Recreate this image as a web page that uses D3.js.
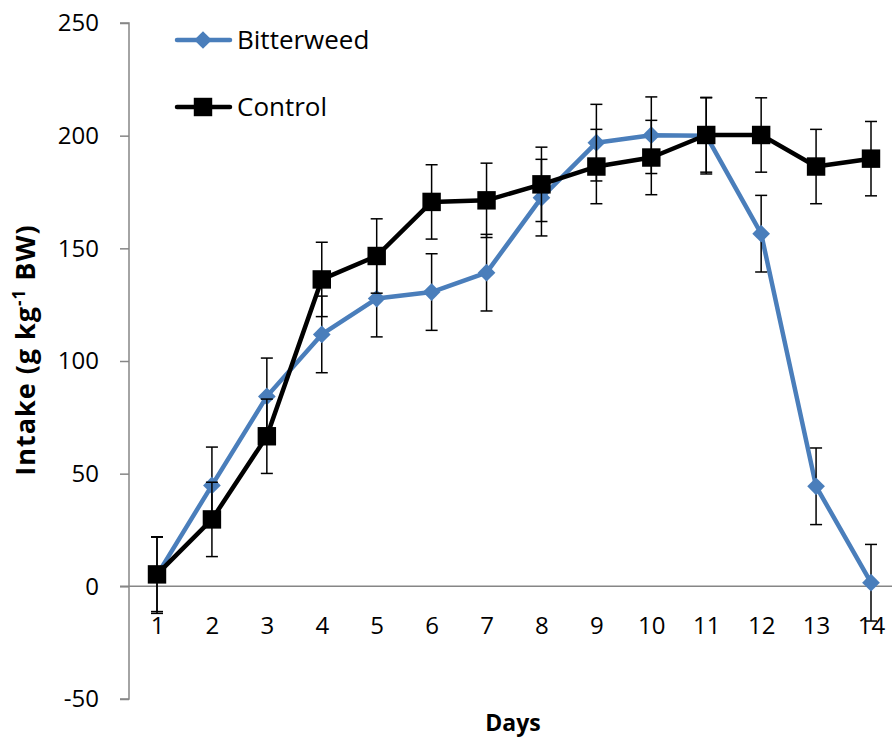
<!DOCTYPE html>
<html>
<head>
<meta charset="utf-8">
<script src="https://cdn.jsdelivr.net/npm/d3@7"></script>
<style>
  html, body { margin: 0; padding: 0; background: #fff; }
  svg { display: block; font-family: "Open Sans", "Noto Sans", sans-serif; }
</style>
</head>
<body>
<svg id="chart" width="892" height="740"></svg>
<script>
// Daily intake per treatment, with standard errors
const days = [1, 2, 3, 4, 5, 6, 7, 8, 9, 10, 11, 12, 13, 14];
const bitterweed = [5, 44.8, 84.3, 111.8, 127.7, 130.6, 139.2, 172.5, 196.9, 200.2, 200, 156.5, 44.4, 1.6];
const bitterweedSE = [17, 17, 17, 17, 17, 17, 17, 17, 17, 17, 17, 17, 17, 17];
const control = [5.3, 29.7, 66.6, 136.2, 146.6, 170.6, 171.3, 178.4, 186.3, 190.3, 200.3, 200.3, 186.3, 189.8];
const controlSE = [16.5, 16.5, 16.5, 16.5, 16.5, 16.5, 16.5, 16.5, 16.5, 16.5, 16.5, 16.5, 16.5, 16.5];
const yTicks = [-50, 0, 50, 100, 150, 200, 250];
const seriesNames = ["Bitterweed", "Control"];

const svg = d3.select("#chart");
const blue = "#4A7EBB";
const axisGray = "#868686";

const x = d3.scalePoint().domain(days).range([157, 871]);
const y = d3.scaleLinear().domain([-50, 250]).range([699, 23]);

// Vertical value axis with outside ticks
const yAxisX = 129;
const yAxis = svg.append("g").attr("transform", `translate(${yAxisX},0)`)
  .call(d3.axisLeft(y).tickValues(yTicks).tickSize(9).tickPadding(21).tickFormat(d => String(d)));
yAxis.select(".domain").attr("stroke", axisGray).attr("stroke-width", 1.5)
  .attr("d", `M-9,${y(250)}H0V${y(-50)}H-9`);
yAxis.selectAll(".tick line").attr("stroke", axisGray).attr("stroke-width", 1.5);
yAxis.selectAll(".tick text").attr("font-size", 24).attr("fill", "#000")
  .attr("font-family", "'Open Sans', sans-serif");

// Horizontal category axis crossing at zero
const xAxis = svg.append("g").attr("transform", `translate(0,${y(0)})`)
  .call(d3.axisBottom(x).tickSize(0).tickPadding(31));
xAxis.select(".domain").attr("stroke", axisGray).attr("stroke-width", 1.5)
  .attr("d", `M120,0H892`);
xAxis.selectAll(".tick text").attr("font-size", 24).attr("fill", "#000")
  .attr("font-family", "'Open Sans', sans-serif");

// Axis titles
svg.append("text")
  .attr("x", 513).attr("y", 731)
  .attr("text-anchor", "middle")
  .attr("font-size", 23).attr("font-weight", "bold")
  .text("Days");

const yTitle = svg.append("text")
  .attr("transform", "translate(35,350) rotate(-90)")
  .attr("text-anchor", "middle")
  .attr("font-size", 27).attr("font-weight", "bold")
  .attr("letter-spacing", 1);
yTitle.append("tspan").text("Intake (g kg");
yTitle.append("tspan").attr("font-size", 17).attr("dy", -10).text("-1");
yTitle.append("tspan").attr("dy", 10).text(" BW)");

const line = d3.line().x((d, i) => x(days[i])).y(d => y(d));

function drawErrorBars(values, se) {
  const g = svg.append("g").attr("stroke", "#000").attr("stroke-width", 1.5);
  values.forEach((v, i) => {
    const cx = x(days[i]);
    g.append("line").attr("x1", cx).attr("x2", cx).attr("y1", y(v - se[i])).attr("y2", y(v + se[i]));
    g.append("line").attr("x1", cx - 6).attr("x2", cx + 6).attr("y1", y(v + se[i])).attr("y2", y(v + se[i]));
    g.append("line").attr("x1", cx - 6).attr("x2", cx + 6).attr("y1", y(v - se[i])).attr("y2", y(v - se[i]));
  });
}

const diamond = d3.symbol().type(d3.symbolDiamond2).size(200);
const square = d3.symbol().type(d3.symbolSquare).size(340);

// Bitterweed series
svg.append("path").datum(bitterweed)
  .attr("d", line).attr("fill", "none").attr("stroke", blue)
  .attr("stroke-width", 4.5).attr("stroke-linejoin", "round");
drawErrorBars(bitterweed, bitterweedSE);
svg.append("g").selectAll("path").data(bitterweed).join("path")
  .attr("transform", (d, i) => `translate(${x(days[i])},${y(d)})`)
  .attr("d", diamond).attr("fill", blue);

// Control series
svg.append("path").datum(control)
  .attr("d", line).attr("fill", "none").attr("stroke", "#000")
  .attr("stroke-width", 4.5).attr("stroke-linejoin", "round");
drawErrorBars(control, controlSE);
svg.append("g").selectAll("path").data(control).join("path")
  .attr("transform", (d, i) => `translate(${x(days[i])},${y(d)})`)
  .attr("d", square).attr("fill", "#000");

// Legend
const legendItems = [
  { name: seriesNames[0], color: blue, symbol: diamond, ly: 40 },
  { name: seriesNames[1], color: "#000", symbol: square, ly: 107 }
];
const legend = svg.append("g");
legendItems.forEach(item => {
  legend.append("line").attr("x1", 177).attr("x2", 230).attr("y1", item.ly).attr("y2", item.ly)
    .attr("stroke", item.color).attr("stroke-width", 4.5).attr("stroke-linecap", "round");
  legend.append("path").attr("transform", `translate(203,${item.ly})`)
    .attr("d", item.symbol).attr("fill", item.color);
  legend.append("text").attr("x", 237).attr("y", item.ly + 9)
    .attr("font-size", 26).attr("fill", "#000").text(item.name);
});
</script>
</body>
</html>
